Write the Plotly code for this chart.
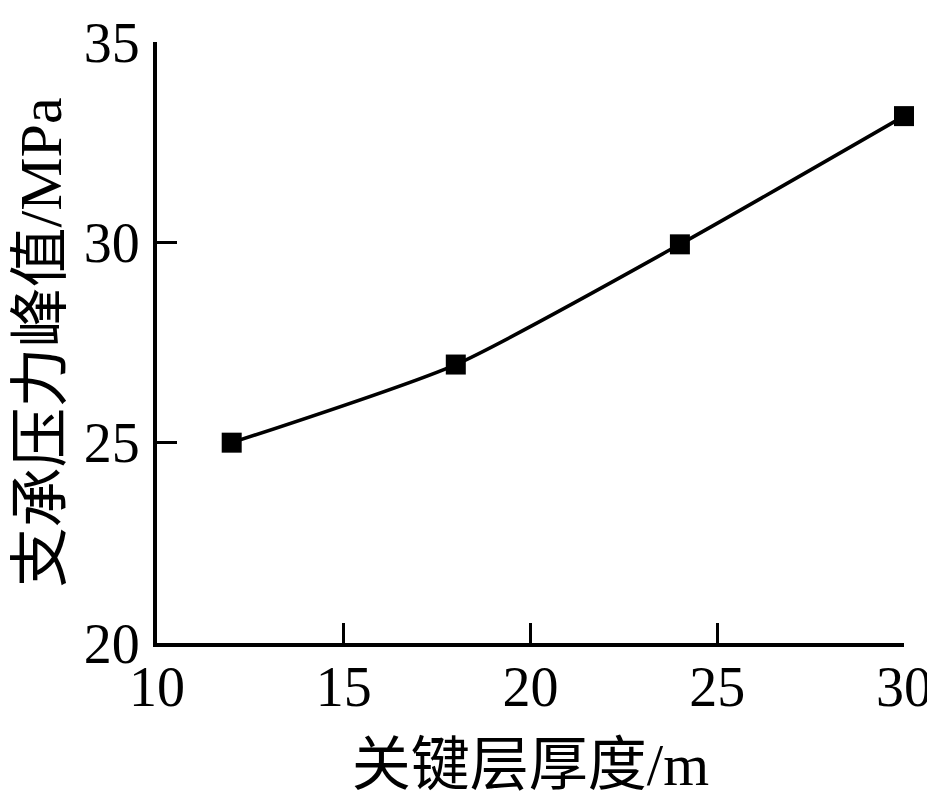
import plotly.graph_objects as go

thickness = [12, 18, 24, 30]
peak_stress = [25.0, 26.95, 29.95, 33.15]

x_title = "关键层厚度/m"
y_title = "支承压力峰值/MPa"
x_ticks = [10, 15, 20, 25, 30]
y_ticks = [20, 25, 30, 35]

font_family = "Liberation Serif, Times New Roman, Noto Sans CJK SC, serif"

fig = go.Figure()
fig.add_trace(go.Scatter(
    x=thickness, y=peak_stress, mode="lines+markers",
    line=dict(color="black", width=3.5, shape="spline", smoothing=0.6),
    marker=dict(symbol="square", size=20, color="black"),
    showlegend=False, cliponaxis=False,
))

fig.update_layout(
    width=927, height=790,
    margin=dict(l=149, r=31, t=34, b=155, autoexpand=False),
    plot_bgcolor="white", paper_bgcolor="white",
    font=dict(family=font_family, color="black"),
)
fig.update_xaxes(
    range=[10, 30], tickvals=x_ticks, ticktext=[str(v) for v in x_ticks],
    showline=True, linecolor="black", linewidth=4,
    ticks="inside", ticklen=20, tickwidth=3, tickcolor="black",
    showgrid=False, zeroline=False, automargin=False,
    tickfont=dict(size=56, family=font_family), ticklabelstandoff=-8,
    title=dict(text=x_title, font=dict(size=59, family=font_family), standoff=30),
)
fig.update_yaxes(
    range=[20, 35], tickvals=y_ticks, ticktext=[str(v) for v in y_ticks],
    showline=True, linecolor="black", linewidth=4,
    ticks="inside", ticklen=20, tickwidth=3, tickcolor="black",
    showgrid=False, zeroline=False, automargin=False,
    tickfont=dict(size=56, family=font_family), ticklabelstandoff=2,
    title=dict(text=y_title, font=dict(size=60, family=font_family), standoff=14),
)

fig.write_html("out.html")
